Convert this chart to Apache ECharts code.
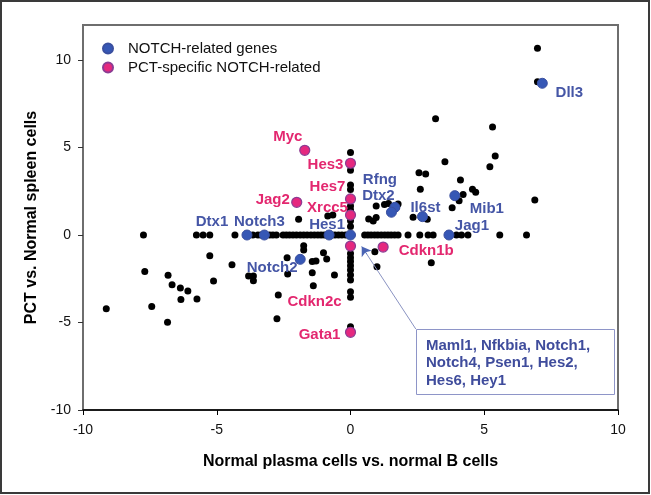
<!DOCTYPE html>
<html><head><meta charset="utf-8">
<script src="https://cdn.jsdelivr.net/npm/echarts@6/dist/echarts.min.js"></script>
<style>html,body{margin:0;padding:0;background:#fff}#c{width:651px;height:495px}</style>
</head><body><div id="c"></div>
<script>
// ---- data ----
const xTicks = [-10, -5, 0, 5, 10];
const yTicks = [-10, -5, 0, 5, 10];

const otherGenes = [
  [-9.13,-4.21],[-7.74,0],[-7.69,-2.08],[-7.43,-4.08],[-6.84,-4.99],[-6.82,-2.30],[-6.67,-2.84],
  [-6.36,-3.03],[-6.34,-3.68],[-6.08,-3.20],[-5.74,-3.66],[-5.76,0],[-5.51,0],[-5.26,0],
  [-5.26,-1.18],[-5.12,-2.63],[-4.43,-1.70],[-4.32,0],[-3.81,-2.34],[-3.63,-2.34],[-3.63,-2.61],
  [-3.65,0],[-3.46,0],[-3.34,0],[-3.02,0],[-2.90,0],[-2.77,0],
  [-2.52,0],[-2.40,0],[-2.28,0],[-2.15,0],[-2.02,0],[-1.88,0],[-1.75,0],[-1.62,0],[-1.48,0],
  [-1.35,0],[-1.22,0],[-1.10,0],[-0.98,0],[-0.86,0],[-0.70,0],[-0.58,0],[-0.45,0],[-0.32,0],[-0.18,0],
  [-2.75,-4.78],[-2.70,-3.43],[-2.37,-1.30],[-2.35,-2.23],[-1.94,0.90],[-1.75,-0.62],[-1.75,-0.85],
  [-1.43,-1.52],[-1.29,-1.49],[-1.43,-2.15],[-1.39,-2.90],[-1.01,-1.01],[-0.89,-1.37],[-0.60,-2.29],
  [-0.85,1.09],[-0.66,1.14],
  [0,4.72],[0,3.70],[0,2.86],[0,2.60],[0,1.66],[0,1.43],[0,0.82],[0,0.48],[0,-1.05],[0,-1.30],
  [0,-1.52],[0,-1.75],[0,-2.00],[0,-2.29],[0,-2.57],[0,-3.24],[0,-3.56],[0,-5.24],
  [0.68,0.92],[0.85,0.80],[0.96,1.00],[0.96,1.66],[1.27,1.75],[1.42,1.80],[1.78,1.77],[1.72,1.60],
  [0.91,-0.95],[0.99,-1.81],[3.02,-1.58],
  [2.34,1.01],[2.87,0.90],[3.80,1.56],[4.06,1.96],[4.21,2.32],[4.56,2.61],[4.68,2.44],[2.61,2.61],
  [4.11,3.14],[2.56,3.56],[2.81,3.49],[3.53,4.19],[5.21,3.90],[5.41,4.51],[5.31,6.17],[3.18,6.65],
  [6.99,10.67],[6.99,8.76],[6.89,2.00],
  [0.53,0],[0.65,0],[0.77,0],[0.90,0],[1.02,0],[1.15,0],[1.28,0],[1.40,0],[1.52,0],[1.65,0],[1.78,0],
  [2.15,0],[2.59,0],[2.90,0],[3.09,0],[3.96,0],[4.15,0],[4.39,0],[5.58,0],[6.58,0]
];

const notchNames = ['Dll3','Rfng','Dtx2','Il6st','Mib1','Jag1','Dtx1','Notch3','Hes1','Notch2',''];
const notchX     = [7.17, 1.66, 1.53, 2.69, 3.90, 3.68, -3.87, -3.22, -0.80, -1.88, 0];
const notchY     = [8.67, 1.58, 1.30, 1.05, 2.25, 0,    0,     0,     0,     -1.39, 0];

const pctNames = ['Myc','Hes3','Hes7','Xrcc5','Jag2','Cdkn2c','Gata1','Cdkn1b'];
const pctX     = [-1.71, 0,   0,    0,    -2.01, 0,     0,     1.22];
const pctY     = [4.84,  4.10, 2.06, 1.14, 1.87, -0.63, -5.56, -0.69];

const annotationLines = ['Maml1, Nfkbia, Notch1,', 'Notch4, Psen1, Hes2,', 'Hes6, Hey1'];
const arrowFrom = [2.44, -5.37];
const arrowMid  = [0.62, -1.12];
const arrowTo   = [0.42, -0.66];

// ---- label placement (pixel offsets from point centre) ----
const labelOffsets = {
  Myc:[-17,-13], Hes3:[-25,2], Hes7:[-23,-12], Xrcc5:[-23,-7], Jag2:[-24,-2],
  Cdkn2c:[-36,56], Gata1:[-31,3], Cdkn1b:[43,4],
  Dll3:[27,10], Rfng:[-15,-27], Dtx2:[-13,-16], Il6st:[3,-9], Mib1:[32,13], Jag1:[23,-9],
  Dtx1:[-35,-13], Notch3:[-5,-13], Hes1:[-2,-10], Notch2:[-28,9]
};

const FONT = '"Liberation Sans", Arial, sans-serif';
const BLUE = '#3657b5', BLUE_TXT = '#4556a6';
const PINK = '#e5287f', PINK_TXT = '#e3276f';

function makePoints(names, xs, ys, txtColor) {
  return names.map((n, i) => ({
    name: n,
    value: [xs[i], ys[i]],
    label: n ? {
      show: true, position: 'inside', formatter: n,
      offset: labelOffsets[n] || [0,0],
      color: txtColor, fontFamily: FONT, fontWeight: 'bold', fontSize: 15
    } : { show: false }
  }));
}

const chart = echarts.init(document.getElementById('c'), null, { renderer: 'canvas' });
chart.setOption({
  animation: false,
  backgroundColor: '#fff',
  grid: { left: 83, right: 33, top: 25, bottom: 85, show: true, borderColor: '#6e6e6e', borderWidth: 2, backgroundColor: 'transparent' },
  legend: {
    orient: 'vertical', left: 97, top: 36, itemWidth: 10, itemHeight: 10, itemGap: 4,
    icon: 'circle',
    data: ['NOTCH-related genes', 'PCT-specific NOTCH-related'],
    textStyle: { fontFamily: FONT, fontSize: 15, color: '#111', padding: [0,0,0,10] }
  },
  xAxis: {
    type: 'value', min: -10, max: 10, interval: 5,
    name: 'Normal plasma cells vs. normal B cells', nameLocation: 'middle', nameGap: 44,
    nameTextStyle: { fontFamily: FONT, fontSize: 16, fontWeight: 'bold', color: '#000' },
    axisLine: { onZero: false, lineStyle: { color: '#000', width: 1.5 } },
    axisTick: { show: true, length: 5, customValues: xTicks, lineStyle: { color: '#000' } },
    axisLabel: { customValues: xTicks, margin: 13, fontFamily: FONT, fontSize: 14, color: '#111' },
    splitLine: { show: false }
  },
  yAxis: {
    type: 'value', min: -10, max: 12, interval: 5,
    name: 'PCT vs. Normal spleen cells', nameLocation: 'middle', nameGap: 42,
    nameTextStyle: { fontFamily: FONT, fontSize: 16, fontWeight: 'bold', color: '#000' },
    axisLine: { show: true, onZero: false, lineStyle: { color: '#6e6e6e', width: 2 } },
    axisTick: { show: true, length: 5, customValues: yTicks, lineStyle: { color: '#333' } },
    axisLabel: { customValues: yTicks, margin: 12, fontFamily: FONT, fontSize: 14, color: '#111' },
    splitLine: { show: false }
  },
  series: [
    {
      type: 'scatter', name: 'other', symbolSize: 7, z: 2,
      itemStyle: { color: '#000', opacity: 1 },
      data: otherGenes,
      markLine: {
        silent: true, symbol: ['none', 'none'],
        label: { show: false },
        emphasis: { disabled: true },
        data: [
          [{ coord: arrowFrom, lineStyle: { color: '#8a93c2', width: 1, type: 'solid' } },
           { coord: arrowMid }],
          [{ coord: arrowMid, symbol: 'none', lineStyle: { color: '#4a64b4', width: 1, type: 'solid' } },
           { coord: arrowTo, symbol: 'arrow', symbolSize: 9 }]
        ]
      }
    },
    {
      type: 'scatter', name: 'NOTCH-related genes', symbolSize: 10, z: 3,
      itemStyle: { color: BLUE, borderColor: '#3a4f9f', borderWidth: 1, opacity: 1 },
      data: makePoints(notchNames, notchX, notchY, BLUE_TXT)
    },
    {
      type: 'scatter', name: 'PCT-specific NOTCH-related', symbolSize: 10, z: 4,
      itemStyle: { color: PINK, borderColor: '#8b3c93', borderWidth: 1.2, opacity: 1 },
      data: makePoints(pctNames, pctX, pctY, PINK_TXT)
    }
  ],
  graphic: [
    { type: 'rect', shape: { x: 1, y: 1, width: 648, height: 492 }, style: { fill: 'none', stroke: '#3a3a3a', lineWidth: 2 }, z: 100, silent: true },
    { type: 'rect', shape: { x: 416.5, y: 329.5, width: 198, height: 65 }, style: { fill: '#fff', stroke: '#8e95c8', lineWidth: 1 }, z: 50 },
    { type: 'text', x: 426, y: 337, z: 51,
      style: { text: annotationLines.join('\n'), fill: '#3f4c9c', font: 'bold 15px ' + FONT, lineHeight: 17.5 } }
  ]
});
</script></body></html>
